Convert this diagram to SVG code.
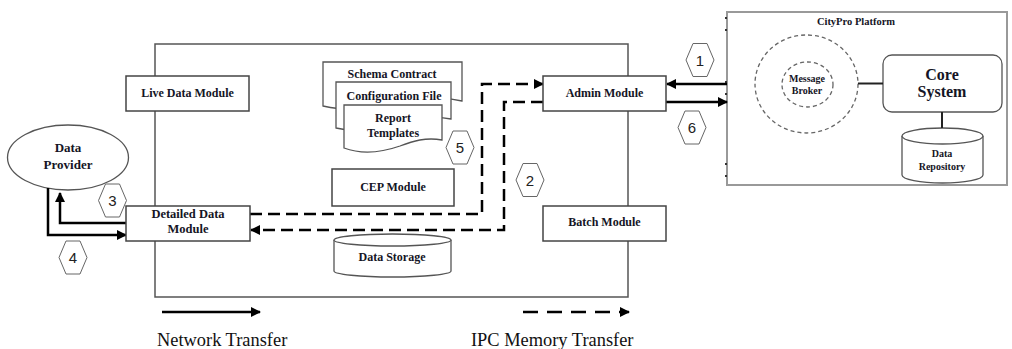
<svg xmlns="http://www.w3.org/2000/svg" width="1012" height="349" viewBox="0 0 1012 349">
<defs>
<marker id="ah" viewBox="0 0 10 10" refX="9" refY="5" markerWidth="10" markerHeight="10" markerUnits="userSpaceOnUse" orient="auto">
<path d="M0,0 L10,5 L0,10 Z" fill="#000"/>
</marker>
<style>
.box{fill:#fff;stroke:#444;stroke-width:1.5}
.frame{fill:none;stroke:#555;stroke-width:1.5}
.lbl{font-family:"Liberation Serif","Times New Roman",serif;font-weight:bold;font-size:12px;fill:#151525;text-anchor:middle}
.hex{fill:#fff;stroke:#666;stroke-width:1}
.num{font-family:"Liberation Sans",Arial,sans-serif;font-size:15px;fill:#222;text-anchor:middle}
.solid{fill:none;stroke:#000;stroke-width:2.5}
.dash{fill:none;stroke:#000;stroke-width:2.5;stroke-dasharray:12 6}
.leg{font-family:"Liberation Serif","Times New Roman",serif;font-size:18.4px;fill:#111}
.dcirc{fill:none;stroke:#666;stroke-width:1.3;stroke-dasharray:4 3}
.dot{fill:#333}
</style>
</defs>

<g id="main-frame">
<rect class="frame" x="155" y="44" width="473" height="253"/>
</g>

<g id="citypro">
<rect x="727" y="12" width="280" height="173" fill="#fff" stroke="#999" stroke-width="2"/>
<text class="lbl" x="856" y="25" style="font-size:10.5px">CityPro Platform</text>
<rect class="dot" x="725" y="17" width="2" height="2"/>
<rect class="dot" x="725" y="29" width="2" height="2"/>
<rect class="dot" x="725" y="81" width="2" height="2"/>
<rect class="dot" x="725" y="93" width="2" height="2"/>
<rect class="dot" x="725" y="163" width="2" height="2"/>
<rect class="dot" x="725" y="175" width="2" height="2"/>
</g>

<g id="message-broker">
<ellipse class="dcirc" cx="806.5" cy="84" rx="51.5" ry="49"/>
<ellipse class="dcirc" cx="807.5" cy="84.5" rx="25.5" ry="22.5"/>
<text class="lbl" x="807" y="82" style="font-size:10px">Message</text>
<text class="lbl" x="807" y="94" style="font-size:10px">Broker</text>
</g>

<g id="core-system">
<rect x="883" y="55" width="119" height="57" rx="9" fill="#fff" stroke="#555" stroke-width="1.3"/>
<text class="lbl" x="942" y="80" style="font-size:16px">Core</text>
<text class="lbl" x="942" y="97" style="font-size:16px">System</text>
</g>

<g id="data-repository">
<path d="M902,136 L902,175 A40.5,8 0 0 0 983,175 L983,136" fill="#fff" stroke="#555" stroke-width="1.3"/>
<ellipse cx="942.5" cy="136" rx="40.5" ry="8" fill="#fff" stroke="#555" stroke-width="1.3"/>
<text class="lbl" x="942" y="157" style="font-size:10px">Data</text>
<text class="lbl" x="942" y="170" style="font-size:10px">Repository</text>
</g>

<g id="data-provider">
<ellipse cx="68" cy="157.5" rx="60.5" ry="32.5" fill="#fff" stroke="#555" stroke-width="1.3"/>
<text class="lbl" x="68" y="152" style="font-size:13px">Data</text>
<text class="lbl" x="68" y="169" style="font-size:13px">Provider</text>
</g>

<g id="connectors">
<line x1="858" y1="83.5" x2="883" y2="83.5" stroke="#222" stroke-width="2"/>
<line x1="942" y1="112" x2="942" y2="128" stroke="#222" stroke-width="2"/>
<line class="solid" x1="727" y1="84" x2="667" y2="84" marker-end="url(#ah)"/>
<line class="solid" x1="666" y1="102" x2="727" y2="102" marker-end="url(#ah)"/>
<polyline class="solid" points="126,223 60,223 60,193" marker-end="url(#ah)"/>
<polyline class="solid" points="48,188 48,235 126,235" marker-end="url(#ah)"/>
<polyline class="dash" points="250,214 482,214 482,84 543,84" marker-end="url(#ah)"/>
<polyline class="dash" points="543,102 504,102 504,230 251,230" marker-end="url(#ah)"/>
<line class="solid" x1="162" y1="312" x2="260" y2="312" marker-end="url(#ah)"/>
<line class="dash" x1="523" y1="312" x2="629" y2="312" style="stroke-dasharray:15 9" marker-end="url(#ah)"/>
</g>

<g id="live-data-module">
<rect class="box" x="126" y="76" width="123" height="35"/>
<text class="lbl" x="187.5" y="97">Live Data Module</text>
</g>

<g id="detailed-data-module">
<rect class="box" x="126" y="206" width="124" height="35"/>
<text class="lbl" x="188" y="218" style="font-size:12.5px">Detailed Data</text>
<text class="lbl" x="188" y="233" style="font-size:12.5px">Module</text>
</g>

<g id="admin-module">
<rect class="box" x="543" y="76" width="123" height="35"/>
<text class="lbl" x="604.5" y="97">Admin Module</text>
</g>

<g id="batch-module">
<rect class="box" x="543" y="206" width="123" height="35"/>
<text class="lbl" x="604.5" y="226">Batch Module</text>
</g>

<g id="cep-module">
<rect class="box" x="332" y="169" width="122" height="37"/>
<text class="lbl" x="393" y="191">CEP Module</text>
</g>

<g id="data-storage">
<path d="M334,240 L334,271 A58.5,6 0 0 0 451,271 L451,240" fill="#fff" stroke="#555" stroke-width="1.3"/>
<ellipse cx="392.5" cy="240" rx="58.5" ry="6" fill="#fff" stroke="#555" stroke-width="1.3"/>
<text class="lbl" x="392" y="261">Data Storage</text>
</g>

<g id="schema-contract">
<path d="M323,62 H462 V101 C440,96 420,100 400,104 C372,110 345,111 323,106 Z" fill="#fff" stroke="#555" stroke-width="1.3"/>
<text class="lbl" x="392" y="78">Schema Contract</text>
</g>

<g id="configuration-file">
<path d="M336,82 H451 V119 C432,115 412,119 396,124 C372,131 352,132 336,128 Z" fill="#fff" stroke="#555" stroke-width="1.3"/>
<text class="lbl" x="394" y="100">Configuration File</text>
</g>

<g id="report-templates">
<path d="M344,105 H442 V140 C426,137 413,141 400,146 C380,153 360,154 344,148 Z" fill="#fff" stroke="#555" stroke-width="1.3"/>
<text class="lbl" x="393" y="122">Report</text>
<text class="lbl" x="393" y="137">Templates</text>
</g>

<g id="hex-labels">
<polygon class="hex" points="686,60 693,43.5 707,43.5 714,60 707,76.5 693,76.5"/>
<text class="num" x="700" y="65.5">1</text>
<polygon class="hex" points="516,180 523,163.5 537,163.5 544,180 537,196.5 523,196.5"/>
<text class="num" x="530" y="185.5">2</text>
<polygon class="hex" points="98.5,200.5 105.5,184 119.5,184 126.5,200.5 119.5,217 105.5,217"/>
<text class="num" x="112.5" y="206">3</text>
<polygon class="hex" points="59,257.5 66,241 80,241 87,257.5 80,274 66,274"/>
<text class="num" x="73" y="263">4</text>
<polygon class="hex" points="446,147.5 453,131 467,131 474,147.5 467,164 453,164"/>
<text class="num" x="460" y="153">5</text>
<polygon class="hex" points="678,127.5 685,111 699,111 706,127.5 699,144 685,144"/>
<text class="num" x="692" y="133">6</text>
</g>

<g id="legend">
<text class="leg" x="157" y="346">Network Transfer</text>
<text class="leg" x="471" y="346">IPC Memory Transfer</text>
</g>
</svg>
